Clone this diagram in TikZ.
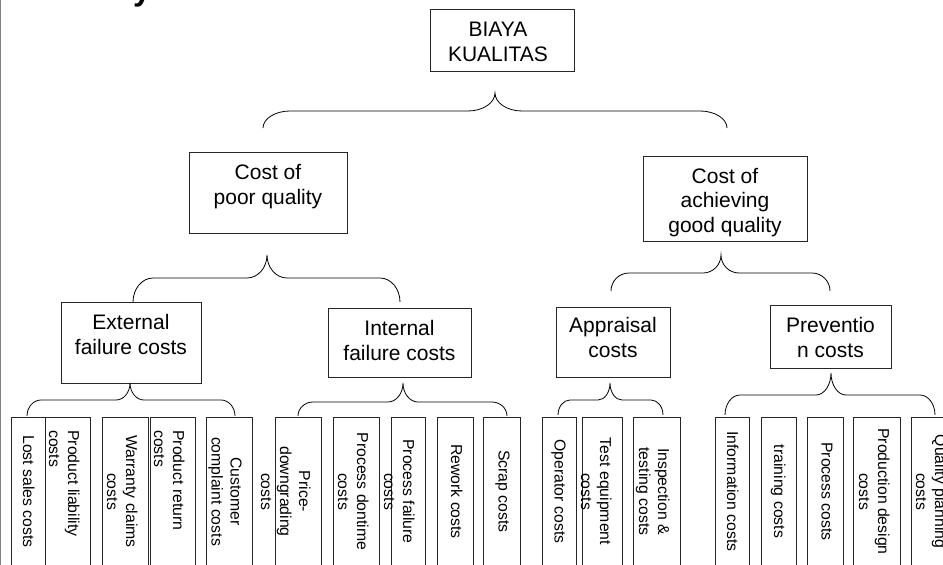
\documentclass[tikz,border=0pt]{standalone}
\usepackage{fontspec}
\setmainfont{Liberation Sans}

% Curly brace from a parent box down to its children:
% #1 left end x, #2 tip x, #3 right end x, #4 end y, #5 flat y, #6 tip y, #7 corner radius
\newcommand\tierbrace[7]{%
  \draw[bracestroke]
    (#1,#4) .. controls (#1,{#4-0.55*(#4-#5)}) and ({#1+0.45*#7},#5) .. ({#1+#7},#5)
    -- ({#2-#7},#5) .. controls ({#2-0.45*#7},#5) and (#2,{#6+0.55*(#5-#6)}) .. (#2,#6)
    .. controls (#2,{#6+0.55*(#5-#6)}) and ({#2+0.45*#7},#5) .. ({#2+#7},#5)
    -- ({#3-#7},#5) .. controls ({#3-0.45*#7},#5) and (#3,{#4-0.55*(#4-#5)}) .. (#3,#4);}

% Tall cost item: #1 name, #2 left x, #3 width, #4 anchor mode (c = centred, l = flush), #5 text
\newcommand\costitem[5]{%
  \node[leafbox, minimum width=#3pt] (#1) at (#2,417) {};
  \if#4c
    \node[leaflabel, align=center, anchor=north] (#1-t)
      at ([xshift=-11pt, yshift=-74.5pt]#1.north east) {#5};
  \else
    \node[leaflabel, align=left, anchor=north west] (#1-t)
      at ([xshift=-11pt, yshift=-13pt]#1.north east) {#5};
  \fi}

\begin{document}
\begin{tikzpicture}[x=1pt, y=-1pt,
  costbox/.style={draw=black!85, line width=0.8pt, inner sep=0pt, rectangle},
  boxlabel/.style={inner sep=0pt, align=center, anchor=north,
    font=\fontsize{21}{25}\selectfont},
  leafbox/.style={draw=black!85, line width=0.8pt, inner sep=0pt, rectangle,
    anchor=north west, minimum height=175pt},
  leaflabel/.style={inner sep=0pt, rotate=-90, font=\fontsize{15.8}{19}\selectfont},
  bracestroke/.style={draw=black, line width=0.8pt}]

\useasboundingbox (0,0) rectangle (943,565);
\clip (0,0) rectangle (943,565);
\fill[white] (0,0) rectangle (943,565);

% page edge and the tail of the heading above
\draw[gray, line width=1.2pt] (0.8,0) -- (0.8,565);
\node[anchor=base west, inner sep=0pt, font=\bfseries\fontsize{32}{32}\selectfont]
  (heading) at (133,0.5) {y};

% root
\node[costbox, minimum width=144pt, minimum height=62pt] (root) at (502,40) {};
\node[boxlabel] (root-t) at ([xshift=-4pt, yshift=-13pt]root.north) {BIAYA\\KUALITAS};

% second level
\node[costbox, minimum width=158pt, minimum height=81pt] (poor) at (268,192.5) {};
\node[boxlabel] (poor-t) at ([yshift=-13pt]poor.north) {Cost of\\poor quality};
\node[costbox, minimum width=164pt, minimum height=85pt] (good) at (725,198.5) {};
\node[boxlabel] (good-t) at ([yshift=-12pt]good.north) {Cost of\\achieving\\good quality};

% third level
\node[costbox, minimum width=140pt, minimum height=81pt] (ext) at (131,342.5) {};
\node[boxlabel] (ext-t) at ([yshift=-12pt]ext.north) {External\\failure costs};
\node[costbox, minimum width=143pt, minimum height=69pt] (int) at (399.5,342.5) {};
\node[boxlabel] (int-t) at ([yshift=-12pt]int.north) {Internal\\failure costs};
\node[costbox, minimum width=114pt, minimum height=70pt] (appr) at (613,342) {};
\node[boxlabel] (appr-t) at ([yshift=-10pt]appr.north) {Appraisal\\costs};
\node[costbox, minimum width=121pt, minimum height=63pt] (prev) at (830.5,336.5) {};
\node[boxlabel] (prev-t) at ([yshift=-12pt]prev.north) {Preventio\\n costs};

% braces
\tierbrace{263}{495}{727}{128}{111}{93}{27}
\tierbrace{133}{267}{400}{302}{278}{255}{20}
\tierbrace{611}{721}{830}{291}{273}{255}{18}
\tierbrace{27}{130}{235}{416}{400}{383}{14}
\tierbrace{298}{403}{507}{416}{402}{383}{15}
\tierbrace{558}{610}{663}{415}{400}{383}{12}
\tierbrace{725}{831}{935}{415}{395}{373}{15}

% external failure items
\costitem{lost}{11}{34}{c}{Lost sales costs}
\costitem{liab}{45}{45}{l}{Product liability\\costs}
\costitem{warr}{102}{46}{c}{Warranty claims\\costs}
\costitem{retn}{150}{45}{l}{Product return\\costs}
\costitem{cust}{206}{46}{c}{Customer\\complaint costs}

% internal failure items
\costitem{down}{275}{46}{c}{Price-\\downgrading\\costs}
\costitem{dont}{333}{46}{c}{Process dontime\\costs}
\costitem{fail}{391}{34}{c}{Process failure\\costs}
\costitem{rewk}{437}{36}{c}{Rework costs}
\costitem{scrp}{483}{37}{c}{Scrap costs}

% appraisal items
\costitem{oper}{542}{34}{c}{Operator costs}
\costitem{test}{582}{40}{c}{Test equipment\\costs}
\costitem{insp}{633}{47}{c}{Inspection \&\\testing costs}

% prevention items
\costitem{info}{715}{34}{c}{Information costs}
\costitem{trng}{761}{35}{c}{training costs}
\costitem{proc}{807}{36}{c}{Process costs}
\costitem{prod}{853}{47}{c}{Production design\\costs}
\costitem{qual}{911}{46}{c}{Quality planning\\costs}

\end{tikzpicture}
\end{document}
